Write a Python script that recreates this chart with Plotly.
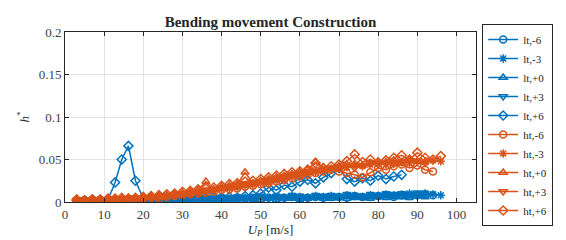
import plotly.graph_objects as go

U = [3, 5, 7, 9, 11, 12.8, 14.5, 16.2, 18, 20, 22, 24, 26, 28, 30, 32, 34, 36, 38, 40,
     42, 44, 46, 48, 50, 52, 54, 56, 58, 60, 62, 64, 66, 68, 70, 72, 74, 76, 78, 80,
     82, 84, 86, 88, 90, 92, 94, 96]

lt_m6 = [0.001,0.002,0.001,0.002,0.002,0.001,0.002,0.002,0.001,0.002,
         0.002,0.003,0.002,0.003,0.003,0.002,0.003,0.004,0.003,0.004,
         0.003,0.004,0.004,0.005,0.004,0.005,0.004,0.005,0.006,0.005,
         0.005,0.006,0.005,0.006,0.006,0.005,0.007,0.006,0.006,0.007,
         0.007,0.006,0.008,0.007,0.008,0.009,0.008]
lt_m3 = [0.002,0.001,0.003,0.002,0.001,0.002,0.003,0.002,0.002,0.003,
         0.003,0.002,0.004,0.003,0.004,0.003,0.005,0.004,0.004,0.005,
         0.004,0.006,0.005,0.004,0.006,0.005,0.006,0.005,0.007,0.006,
         0.005,0.007,0.006,0.007,0.006,0.008,0.007,0.006,0.008,0.007,
         0.009,0.008,0.009,0.010,0.008,0.010,0.009,0.008]
lt_p0 = [0.001,0.001,0.002,0.001,0.002,0.002,0.001,0.001,0.002,0.002,
         0.001,0.002,0.003,0.002,0.002,0.003,0.002,0.003,0.003,0.002,
         0.003,0.003,0.004,0.003,0.003,0.004,0.003,0.004,0.004,0.003,
         0.004,0.005,0.004,0.004,0.005,0.004,0.005,0.005,0.004,0.006,
         0.005,0.006,0.006,0.005,0.007,0.006]
lt_p3 = [0.002,0.003,0.002,0.003,0.002,0.003,0.003,0.002,0.003,0.004,
         0.003,0.004,0.004,0.003,0.005,0.004,0.005,0.005,0.004,0.006,
         0.005,0.006,0.005,0.006,0.007,0.006,0.007,0.006,0.008,0.007,
         0.006,0.008,0.007,0.008,0.007,0.009,0.008,0.007,0.009,0.008,
         0.010,0.009,0.010,0.009,0.011,0.010]
lt_p6 = [0.002,0.002,0.003,0.002,0.003,0.023,0.050,0.066,0.025,0.004,
         0.003,0.004,0.003,0.004,0.005,0.004,0.005,0.004,0.006,0.005,
         0.006,0.005,0.007,0.008,0.010,0.017,0.014,0.020,0.018,0.024,
         0.026,0.022,0.029,0.034,0.040,0.027,0.024,0.028,0.025,0.031,
         0.027,0.030,0.032]

ht_m6 = [0.001,0.002,0.001,0.002,0.002,0.003,0.002,0.003,0.003,0.004,
         0.005,0.004,0.006,0.007,0.008,0.009,0.010,0.011,0.012,0.014,
         0.015,0.016,0.018,0.019,0.021,0.022,0.024,0.026,0.028,0.030,
         0.032,0.034,0.036,0.038,0.036,0.034,0.032,0.029,0.035,0.040,
         0.038,0.042,0.044,0.040,0.043,0.038,0.036]
ht_m3 = [0.002,0.001,0.002,0.003,0.002,0.003,0.003,0.004,0.004,0.005,
         0.006,0.006,0.007,0.008,0.009,0.010,0.011,0.012,0.013,0.015,
         0.016,0.017,0.019,0.020,0.022,0.023,0.025,0.027,0.029,0.031,
         0.033,0.035,0.037,0.039,0.040,0.041,0.043,0.042,0.044,0.045,
         0.044,0.046,0.047,0.046,0.048,0.047,0.049,0.048]
ht_p0 = [0.003,0.002,0.003,0.002,0.004,0.003,0.004,0.005,0.004,0.006,
         0.007,0.008,0.008,0.010,0.011,0.012,0.014,0.024,0.015,0.018,
         0.019,0.021,0.035,0.022,0.025,0.027,0.029,0.031,0.033,0.035,
         0.038,0.047,0.041,0.039,0.042,0.044,0.045,0.043,0.046,0.048,
         0.047,0.049,0.046,0.050,0.048,0.047]
ht_p3 = [0.002,0.003,0.002,0.003,0.003,0.004,0.003,0.004,0.005,0.005,
         0.006,0.007,0.008,0.009,0.010,0.011,0.013,0.014,0.015,0.017,
         0.018,0.020,0.021,0.023,0.024,0.026,0.028,0.030,0.032,0.034,
         0.036,0.038,0.039,0.040,0.041,0.042,0.040,0.043,0.045,0.044,
         0.046,0.045,0.047,0.049,0.048,0.046]
ht_p6 = [0.003,0.002,0.003,0.003,0.004,0.004,0.005,0.004,0.005,0.006,
         0.007,0.008,0.009,0.010,0.012,0.013,0.015,0.016,0.017,0.019,
         0.021,0.022,0.024,0.025,0.027,0.029,0.031,0.033,0.035,0.036,
         0.038,0.046,0.040,0.042,0.044,0.048,0.056,0.047,0.050,0.046,
         0.049,0.052,0.055,0.050,0.058,0.052,0.050,0.054]

names = ["lt,-6", "lt,-3", "lt,+0", "lt,+3", "lt,+6",
         "ht,-6", "ht,-3", "ht,+0", "ht,+3", "ht,+6"]
series = [lt_m6, lt_m3, lt_p0, lt_p3, lt_p6, ht_m6, ht_m3, ht_p0, ht_p3, ht_p6]
symbols = ["circle-open", "asterisk-open", "triangle-up-open", "triangle-down-open", "diamond-open"] * 2
BLUE = "#0072BD"
ORANGE = "#D95319"
colors = [BLUE] * 5 + [ORANGE] * 5

FONT = "Liberation Serif"

fig = go.Figure()
for name, vals, sym, col in zip(names, series, symbols, colors):
    fig.add_trace(go.Scatter(
        x=U[:len(vals)], y=vals, name=name, mode="lines+markers",
        line=dict(color=col, width=1.5),
        marker=dict(symbol=sym, size=7, color=col, line=dict(color=col, width=1.5)),
    ))

axis_common = dict(
    showgrid=True, gridcolor="#e3e3e3", gridwidth=1,
    showline=True, linecolor="#262626", linewidth=1, mirror="ticks",
    ticks="inside", ticklen=4, tickcolor="#262626",
    zeroline=False,
    tickfont=dict(family=FONT, size=13, color="#404040"),
)

fig.update_layout(
    width=566, height=240,
    margin=dict(l=57, r=98, t=24, b=46),
    paper_bgcolor="white", plot_bgcolor="white",
    title=dict(text="<b>Bending movement Construction</b>", x=(57 + 468) / 2 / 566, xanchor="center",
               y=1 - 14 / 240, yanchor="middle",
               font=dict(family=FONT, size=15, color="#262626")),
    xaxis=dict(range=[0, 105], dtick=10, tick0=0,
               title=dict(text="<i>U</i><sub><i>P</i></sub> [m/s]", standoff=3,
                          font=dict(family=FONT, size=13, color="#262626")),
               **axis_common),
    yaxis=dict(range=[0, 0.2], dtick=0.05, tick0=0,
               title=dict(text="<i>h</i><sup>*</sup>", standoff=6,
                          font=dict(family=FONT, size=13, color="#262626")),
               **axis_common),
    legend=dict(x=1.015, xanchor="left", y=1 + 8 / 170, yanchor="top",
                maxheight=236,
                bordercolor="#262626", borderwidth=1, bgcolor="white",
                font=dict(family=FONT, size=11, color="#262626"),
                tracegroupgap=0, itemwidth=30),
    showlegend=True,
)

fig.write_html("out.html")
